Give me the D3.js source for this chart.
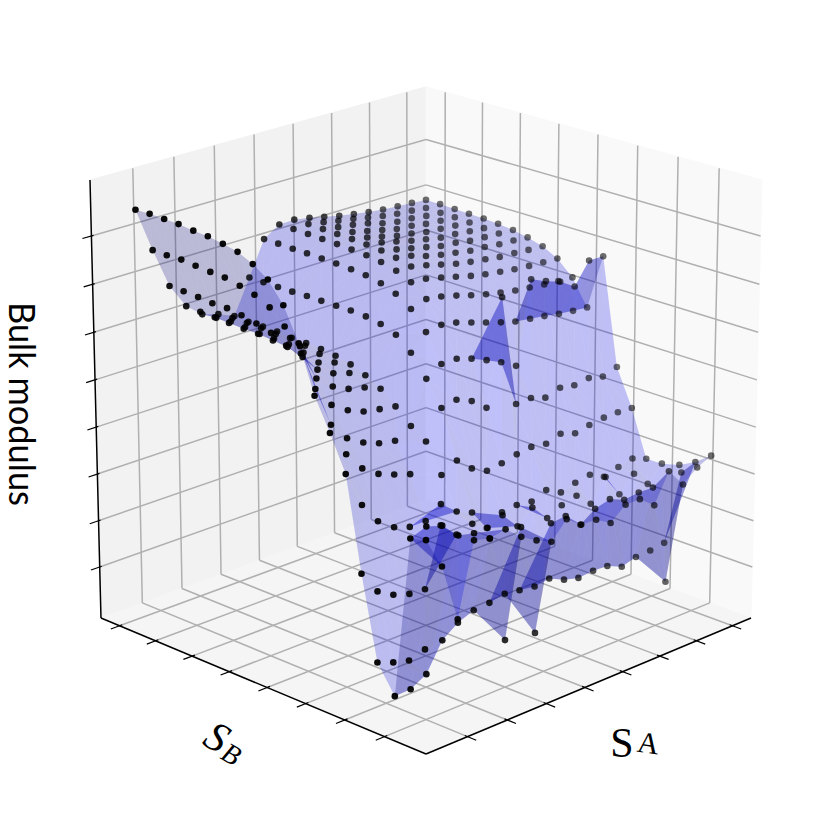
<!DOCTYPE html>
<html>
<head>
<meta charset="utf-8">
<script src="https://cdn.jsdelivr.net/npm/d3@7"></script>
<style>
  body { margin: 0; background: #fff; }
</style>
</head>
<body>
<svg id="chart" width="830" height="830"></svg>
<script>
// composition grid
const saValues = [0.09,0.136,0.182,0.229,0.275,0.322,0.369,0.415,0.46,0.506,0.551,0.597,0.642,0.688,0.733,0.779,0.824,0.87,0.915,0.96];
const sbValues = [0.96,0.915,0.869,0.824,0.778,0.733,0.687,0.642,0.596,0.551,0.505,0.46,0.414,0.369,0.323,0.278,0.232,0.181,0.135,0.09];

// bulk modulus, one row per S_A value, one column per S_B value
const modulus0 = [923,924,923,922,918,916,910,903,887,864,819,747,644,574,496,288,103,43,407,416];
const modulus1 = [822,821,822,819,816,814,807,798,781,750,718,635,568,515,415,235,89,44,420,345];
const modulus2 = [730,729,727,724,724,719,712,702,685,679,635,588,526,471,366,214,79,64,409,215];
const modulus3 = [673,671,670,668,666,666,662,659,648,631,605,564,504,446,339,202,90,126,374,376];
const modulus4 = [643,646,649,647,643,644,642,635,624,611,588,549,490,432,327,199,356,152,366,367];
const modulus5 = [632,634,634,633,631,633,627,620,612,600,579,542,483,420,327,378,322,166,341,374];
const modulus6 = [616,614,614,614,611,610,608,604,596,583,564,536,504,481,418,348,333,169,98,344];
const modulus7 = [694,694,694,694,695,695,695,695,693,687,674,645,598,544,438,333,311,176,340,323];
const modulus8 = [772,772,771,771,770,769,767,764,757,744,721,680,620,551,408,285,327,171,87,307];
const modulus9 = [795,795,794,793,792,790,788,783,774,759,732,685,620,536,390,308,289,166,323,345];
const modulus10 = [796,796,795,794,793,791,788,782,773,756,727,679,609,509,395,312,319,171,327,320];
const modulus11 = [790,790,789,788,786,785,780,776,765,748,718,668,594,747,403,307,282,155,294,318];
const modulus12 = [782,783,784,780,778,777,772,765,756,739,708,657,578,494,408,321,299,146,318,298];
const modulus13 = [774,777,777,772,769,768,764,757,747,730,699,646,558,496,403,303,308,149,327,327];
const modulus14 = [768,770,767,764,764,761,756,751,741,723,692,637,744,485,414,313,277,147,313,327];
const modulus15 = [762,763,760,761,757,754,753,745,736,718,686,632,729,496,403,319,326,132,317,300];
const modulus16 = [758,758,758,755,754,752,747,743,731,713,682,627,717,490,410,302,274,142,316,366];
const modulus17 = [755,755,753,752,751,748,745,739,729,710,678,621,695,495,415,312,309,144,84,323];
const modulus18 = [753,751,750,750,748,745,743,737,726,708,675,617,744,487,416,320,273,149,326,350];
const modulus19 = [750,750,749,748,747,745,741,734,724,706,673,614,743,498,414,307,308,319,338,365];
const modulus = [modulus0,modulus1,modulus2,modulus3,modulus4,modulus5,modulus6,modulus7,modulus8,modulus9,
  modulus10,modulus11,modulus12,modulus13,modulus14,modulus15,modulus16,modulus17,modulus18,modulus19];

const sTicks = [0.12,0.237,0.354,0.471,0.588,0.705,0.822,0.939];
const zTicks = [120,228,336,444,552,660,768,876];

const sa = d3.scaleLinear().domain([0,1]).range([0,1]);
const sb = d3.scaleLinear().domain([0,1]).range([0,1]);
const zs = d3.scaleLinear().domain([0,1000]).range([0,1]);

// perspective camera fitted to the box corners
function project(a, b, z) {
  const w = 1 + 0.0738*(a+b) - 0.0351*z;
  return [426 + 349*(a-b)/w, (754 - 90.4*(a+b) - 476.6*z)/w];
}
const line = d3.line();
const svg = d3.select("#chart");

function quad(pts, fill) {
  svg.append("path").attr("d", line(pts.map(p => project(...p))) + "Z")
    .attr("fill", fill).attr("stroke", fill).attr("stroke-width", 1);
}
quad([[0,1,0],[1,1,0],[1,1,1],[0,1,1]], "#f2f2f2");
quad([[1,0,0],[1,1,0],[1,1,1],[1,0,1]], "#f9f9f9");
quad([[0,0,0],[1,0,0],[1,1,0],[0,1,0]], "#f5f5f5");

function seg(p, q, color, width) {
  svg.append("path").attr("d", line([project(...p), project(...q)]))
    .attr("fill", "none").attr("stroke", color).attr("stroke-width", width);
}
const gridColor = "#b0b0b0";
sTicks.forEach(t => {
  const u = sa(t), v = sb(t);
  seg([u,1,0],[u,1,1], gridColor, 1.5);
  seg([1,v,0],[1,v,1], gridColor, 1.5);
  seg([u,0,0],[u,1,0], gridColor, 1.5);
  seg([0,v,0],[1,v,0], gridColor, 1.5);
});
zTicks.forEach(t => {
  const z = zs(t);
  seg([0,1,z],[1,1,z], gridColor, 1.5);
  seg([1,0,z],[1,1,z], gridColor, 1.5);
});

// flat point list, like plot_trisurf gets it
const points = [];
saValues.forEach((a, i) => sbValues.forEach((b, j) => {
  points.push({a: sa(a), b: sb(b), z: zs(modulus[i][j])});
}));

const tri = d3.Delaunay.from(points, d => d.a, d => d.b).triangles;
const faces = [];
for (let t = 0; t < tri.length; t += 3) {
  const p = points[tri[t]], q = points[tri[t+1]], r = points[tri[t+2]];
  const ux = q.a-p.a, uy = q.b-p.b, uz = q.z-p.z;
  const vx = r.a-p.a, vy = r.b-p.b, vz = r.z-p.z;
  let nx = uy*vz-uz*vy, ny = uz*vx-ux*vz, nz = ux*vy-uy*vx;
  if (nz < 0) { nx = -nx; ny = -ny; nz = -nz; }
  const len = Math.hypot(nx, ny, nz) || 1;
  const shade = (-0.667*nx - 0.667*ny + 0.333*nz)/len;
  faces.push({pts: [p,q,r], shade: 0.3 + 0.7*(shade+1)/2, depth: d3.mean([p,q,r], d => d.a+d.b)});
}
faces.sort((f, g) => g.depth - f.depth);

svg.append("g").selectAll("path").data(faces).join("path")
  .attr("d", f => line(f.pts.map(d => project(d.a, d.b, d.z))) + "Z")
  .attr("fill", f => `rgb(0,0,${Math.round(255*f.shade)})`)
  .attr("fill-opacity", 0.23);

svg.append("g").selectAll("circle").data(points).join("circle")
  .attr("cx", d => project(d.a, d.b, d.z)[0])
  .attr("cy", d => project(d.a, d.b, d.z)[1])
  .attr("r", 3.3)
  .attr("fill", "#000")
  .attr("fill-opacity", d => 1 - 0.45*d.a);

// axis lines and ticks
seg([0,1,0],[0,1,1], "#000", 1.5);
seg([0,1,0],[0,0,0], "#000", 1.5);
seg([0,0,0],[1,0,0], "#000", 1.5);
sTicks.forEach(t => {
  seg([-0.025,sb(t),0],[0.008,sb(t),0], "#000", 1.2);
  seg([sa(t),-0.025,0],[sa(t),0.008,0], "#000", 1.2);
});
zTicks.forEach(t => seg([-0.025,1,zs(t)],[0.006,1,zs(t)], "#000", 1.2));

// labels
svg.append("text")
  .attr("transform", "translate(9,404) rotate(90)")
  .attr("text-anchor", "middle")
  .attr("font-family", "Lato")
  .attr("font-size", 37)
  .attr("textLength", 204)
  .attr("lengthAdjust", "spacingAndGlyphs")
  .text("Bulk modulus");

const serif = "Liberation Serif";
const gB = svg.append("g").attr("transform", "translate(217,737) rotate(30)")
  .attr("font-family", serif).attr("font-style", "italic").attr("text-anchor", "middle");
gB.append("text").attr("y", 14).attr("font-size", 42).text("S");
gB.append("text").attr("x", 21).attr("y", 17).attr("font-size", 28).text("B");

svg.append("text").attr("x", 622).attr("y", 757).attr("text-anchor", "middle")
  .attr("font-family", serif).attr("font-size", 42).text("S");
svg.append("text").attr("transform", "translate(647,753) rotate(8)").attr("text-anchor", "middle")
  .attr("font-family", serif).attr("font-size", 30).text("A");
</script>
</body>
</html>
